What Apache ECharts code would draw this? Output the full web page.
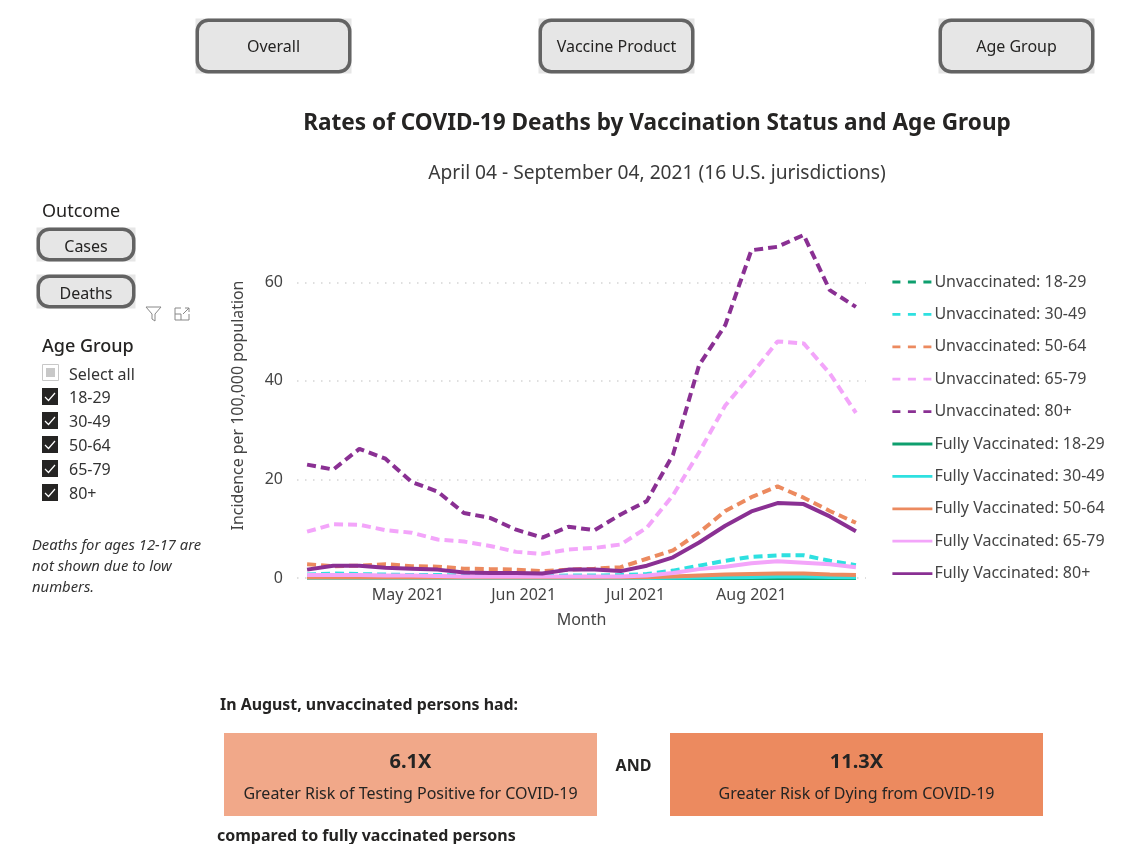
<!DOCTYPE html>
<html><head><meta charset="utf-8">
<style>html,body{margin:0;padding:0;background:#fff}#c{width:1135px;height:844px}</style>
<script src="https://cdn.jsdelivr.net/npm/echarts@6/dist/echarts.min.js"></script>
</head><body><div id="c"></div>
<script>
const FONT='"Noto Sans"';
const startDate=Date.UTC(2021,3,4);
const unvac18=[0.1,0.1,0.1,0.1,0.1,0.1,0.1,0.1,0.1,0.1,0.1,0.1,0.1,0.1,0.2,0.2,0.3,0.3,0.3,0.3,0.2,0.2];
const unvac30=[0.7,0.9,0.8,0.7,0.6,0.6,0.5,0.5,0.4,0.4,0.5,0.5,0.6,0.8,1.5,2.5,3.5,4.3,4.6,4.6,3.5,2.6];
const unvac50=[2.8,2.4,2.5,2.8,2.4,2.3,1.9,1.8,1.7,1.4,1.7,1.9,2.2,3.9,5.6,9.2,13.6,16.4,18.6,16.3,13.6,11.2];
const unvac65=[9.4,10.9,10.8,9.7,9.2,7.8,7.4,6.5,5.3,4.9,5.8,6.1,6.8,10.2,16.8,25.5,35,41.3,48,47.6,41.5,33.5];
const unvac80=[23,22,26.2,24.2,19.5,17.5,13.2,12.2,9.8,8.2,10.4,9.7,12.9,15.6,25,43.2,51.3,66.5,67.2,69.6,58.4,55];
const full18=[0,0,0,0,0,0,0,0,0,0,0,0,0,0,0,0,0,0,0,0,0,0];
const full30=[0,0,0,0,0,0,0,0,0,0,0,0,0,0.02,0.05,0.1,0.15,0.2,0.3,0.3,0.2,0.15];
const full50=[0.1,0.1,0.1,0.1,0.1,0.1,0.1,0.1,0.1,0.1,0.1,0.1,0.1,0.15,0.3,0.5,0.7,0.8,0.9,0.9,0.7,0.6];
const full65=[0.6,0.6,0.6,0.5,0.5,0.4,0.3,0.3,0.3,0.3,0.3,0.3,0.3,0.5,1.0,1.8,2.3,3.0,3.4,3.1,2.8,2.2];
const full80=[1.7,2.5,2.5,2.1,1.9,1.7,1.1,1.0,1.0,0.9,1.7,1.7,1.4,2.5,4.2,7.2,10.6,13.5,15.2,15.0,12.5,9.5];
const ageLabels=['18-29','30-49','50-64','65-79','80+'];
const ageColors=['#0e9f6e','#2ee0e0','#ec8a5f','#f3a5fa','#8a3093'];
const monthTicks=[Date.UTC(2021,4,1),Date.UTC(2021,5,1),Date.UTC(2021,6,1),Date.UTC(2021,7,1)];
const monthNames=['Jan','Feb','Mar','Apr','May','Jun','Jul','Aug','Sep'];
const unvacSeries=[unvac18,unvac30,unvac50,unvac65,unvac80];
const fullSeries=[full18,full30,full50,full65,full80];
const titleText='Rates of COVID-19 Deaths by Vaccination Status and Age Group';
const subtitleText='April 04 - September 04, 2021 (16 U.S. jurisdictions)';
const topButtons=[['Overall',196],['Vaccine Product',539],['Age Group',939]];
const outcomeButtons=[['Cases',228],['Deaths',275]];
const noteLines=['Deaths for ages 12-17 are','not shown due to low','numbers.'];

const DAY=86400000;
const pts=a=>a.map((v,i)=>[startDate+i*7*DAY,v]);
const series=[];
unvacSeries.forEach((a,i)=>series.push({name:'Unvaccinated: '+ageLabels[i],type:'line',data:pts(a),showSymbol:false,symbol:'none',smooth:false,clip:false,
  lineStyle:{color:ageColors[i],width:4,type:[9,5],cap:'butt'},itemStyle:{color:ageColors[i]},z:2}));
fullSeries.forEach((a,i)=>series.push({name:'Fully Vaccinated: '+ageLabels[i],type:'line',data:pts(a),showSymbol:false,symbol:'none',smooth:false,clip:false,
  lineStyle:{color:ageColors[i],width:4},itemStyle:{color:ageColors[i]},z:3}));

function txt(x,y,text,size,opt={}){return {type:'text',x,y:y+1.5,z:10,silent:true,style:Object.assign({text,fill:opt.fill||'#252423',
  font:`${opt.style||'normal'} ${opt.weight||'normal'} ${size}px ${FONT}`,textAlign:opt.align||'left',textVerticalAlign:'middle'})};}
function button(x,y,w,h,label,size,dy){return [
  {type:'rect',z:8,silent:true,shape:{x,y,width:w,height:h},style:{fill:'#e6e6e6'}},
  {type:'rect',z:9,silent:true,shape:{x:x+1.75,y:y+1.75,width:w-3.5,height:h-3.5,r:11},style:{fill:'#e6e6e6',stroke:'#636363',lineWidth:3.5}},
  txt(x+w/2,y+h/2-0.5+dy,label,size,{align:'center'})];}
const g=[];
topButtons.forEach(b=>g.push(...button(b[1]-0.5,18.5,156,55,b[0],16,0)));
outcomeButtons.forEach(b=>g.push(...button(36.5,b[1]-0.5,99,34,b[0],16,2)));
g.push(txt(657,122,titleText,22.6,{align:'center',weight:'bold'}));
g.push(txt(657,172,subtitleText,19.2,{align:'center',fill:'#3a3a3a'}));
g.push(txt(42,210,'Outcome',18));
g.push(txt(42,345,'Age Group',18,{weight:'500'}));
g.push({type:'rect',z:9,silent:true,shape:{x:42.5,y:364.5,width:16,height:16},style:{fill:'#fff',stroke:'#c8c8c8',lineWidth:1}});
g.push({type:'rect',z:9,silent:true,shape:{x:46,y:368,width:9,height:9},style:{fill:'#c8c8c8'}});
g.push(txt(69,374,'Select all',16,{fill:'#333'}));
ageLabels.forEach((l,i)=>{const y=388+i*24;
  g.push({type:'rect',z:9,silent:true,shape:{x:42,y,width:16,height:17},style:{fill:'#252423'}});
  g.push({type:'polyline',z:10,silent:true,shape:{points:[[45,y+9],[48.5,y+12.5],[55,y+5]]},style:{stroke:'#fff',fill:null,lineWidth:1.2}});
  g.push(txt(69,y+8.5,l,16,{fill:'#333'}));
});
noteLines.forEach((l,i)=>g.push(txt(32,544+i*21.3,l,14.8,{style:'italic',fill:'#333'})));
const icon=p=>g.push({type:'polyline',z:10,silent:true,shape:{points:p},style:{stroke:'#888',fill:null,lineWidth:1}});
icon([[146,307],[161,307],[155,314],[155,321],[152,319],[152,314],[146,307]]);
icon([[181,308],[175,308],[175,320],[189,320],[189,314]]);
icon([[175,314],[181,314],[181,320]]);
icon([[183,314],[189,308]]);
icon([[185,308],[189,308],[189,312]]);
g.push(txt(220,704,'In August, unvaccinated persons had:',15.9,{weight:'bold'}));
g.push({type:'rect',z:5,silent:true,shape:{x:224,y:733,width:373,height:83},style:{fill:'#f1a889'}});
g.push({type:'rect',z:5,silent:true,shape:{x:670,y:733,width:373,height:83},style:{fill:'#ec8a5f'}});
g.push(txt(410.5,761,'6.1X',20,{align:'center',weight:'bold'}));
g.push(txt(410.5,793,'Greater Risk of Testing Positive for COVID-19',16,{align:'center'}));
g.push(txt(633.5,765,'AND',16,{align:'center',weight:'bold'}));
g.push(txt(856.5,761,'11.3X',20,{align:'center',weight:'bold'}));
g.push(txt(856.5,793,'Greater Risk of Dying from COVID-19',16,{align:'center'}));
g.push(txt(217,835,'compared to fully vaccinated persons',16,{weight:'bold'}));

const chart=echarts.init(document.getElementById('c'),null,{renderer:'canvas'});
chart.setOption({
  animation:false,backgroundColor:'#fff',
  textStyle:{fontFamily:FONT},
  grid:{left:297,right:269,top:233,bottom:266},
  xAxis:{type:'value',min:startDate-2.7*DAY,max:startDate+21*7*DAY+2.7*DAY,scale:true,
    name:'Month',nameLocation:'middle',nameGap:34,nameTextStyle:{fontSize:16,color:'#444',fontFamily:FONT},
    axisLine:{show:false},axisTick:{show:false},splitLine:{show:false},
    axisLabel:{customValues:monthTicks,fontSize:16,color:'#444',fontFamily:FONT,margin:9,hideOverlap:false,
      formatter:v=>{const d=new Date(v);return monthNames[d.getUTCMonth()]+' '+d.getUTCFullYear();}}},
  yAxis:{type:'value',min:0,max:70,interval:20,
    name:'Incidence per 100,000 population',nameLocation:'middle',nameRotate:90,nameGap:51,nameTextStyle:{fontSize:15.9,color:'#444',fontFamily:FONT},
    axisLine:{show:false},axisTick:{show:false},
    splitLine:{show:true,showMaxLine:false,lineStyle:{color:'#d5d5d5',width:1.5,type:[1.5,6.5]}},
    axisLabel:{fontSize:16,color:'#444',fontFamily:FONT,margin:14,showMaxLabel:false,padding:[2,0,0,0]}},
  legend:{orient:'vertical',left:891,top:274,padding:0,itemWidth:40,itemHeight:16,itemGap:16.4,
    textStyle:{fontSize:16,color:'#444',fontFamily:FONT,padding:[0,0,0,-3]},
    lineStyle:{width:2.8},itemStyle:{opacity:0},selectedMode:false,
    data:series.map((s,i)=>i<5?{name:s.name,lineStyle:{type:[8,7.5]}}:{name:s.name})},
  series,
  graphic:{elements:g}
});
</script></body></html>
